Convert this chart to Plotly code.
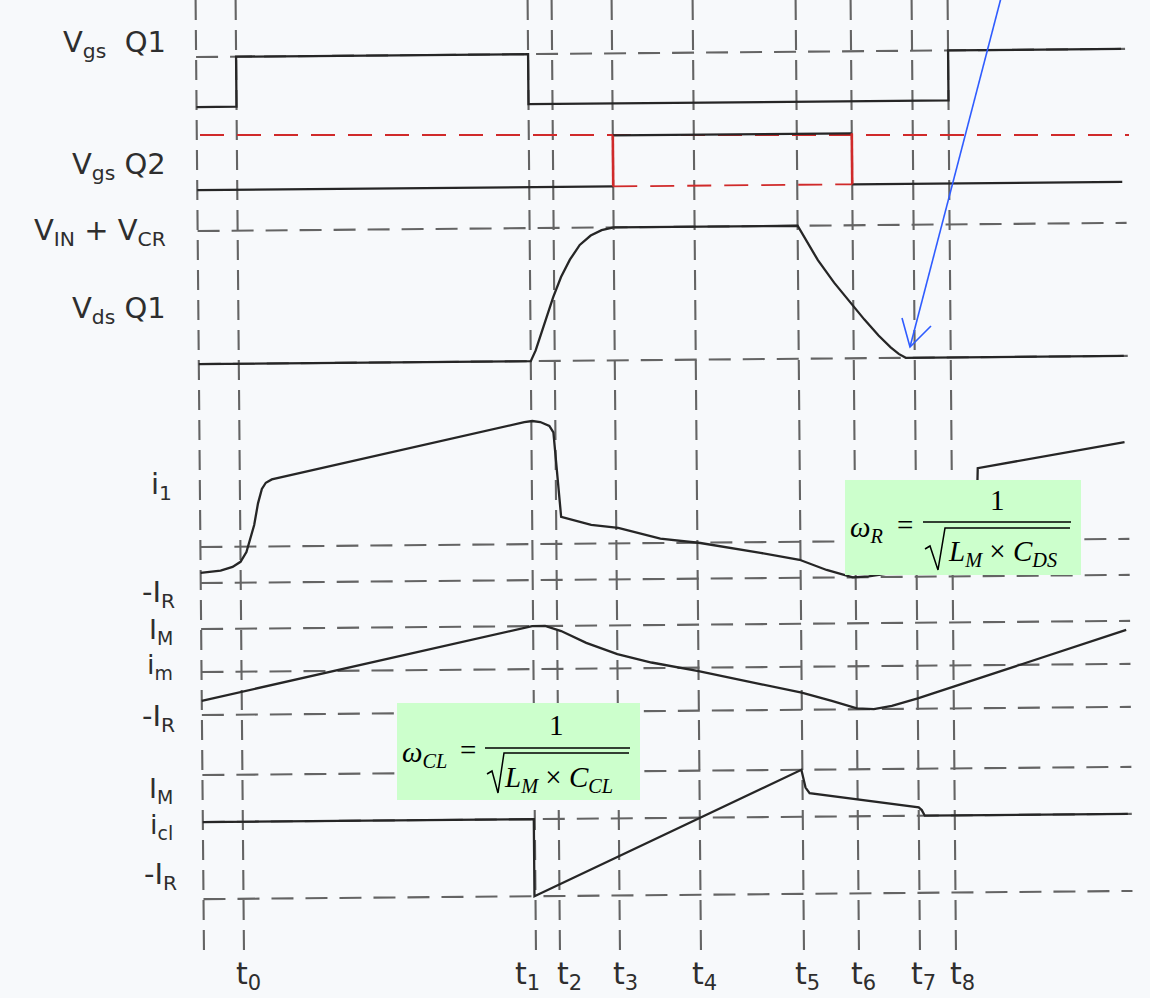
import plotly.graph_objects as go

W, H = 1150, 998

# ---- timing marks (time units; the left edge of the sheet is t = 0) ----
mark_names = ["t<sub>0</sub>", "t<sub>1</sub>", "t<sub>2</sub>", "t<sub>3</sub>", "t<sub>4</sub>",
              "t<sub>5</sub>", "t<sub>6</sub>", "t<sub>7</sub>", "t<sub>8</sub>"]
mark_times = [40, 332, 356, 416, 497, 600, 655, 716, 752]
mark_label_shift = [5, -8, 10, 6, 4, 4, 5, 4, 7]
t_start, t_end = 0, 925

# ---- gate drive Q1 (0 = off, 1 = on) ----
vgs_q1_t = [0, 40, 40, 332, 332, 752, 752, 925]
vgs_q1_v = [0, 0, 1, 1, 0, 0, 1, 1]

# ---- gate drive Q2 ----
vgs_q2_t = [0, 416, 416, 655, 655, 925]
vgs_q2_v = [0, 0, 1, 1, 0, 0]

# ---- drain-source voltage of Q1 (1 = V_IN + V_CR) ----
vds_t = [0, 332, 337, 342, 348, 355, 363, 372, 382, 393, 404, 416,
         600, 620, 636, 651, 666, 680, 692, 700, 707, 925]
vds_v = [0, 0, 0.08, 0.19, 0.33, 0.48, 0.63, 0.76, 0.87, 0.94, 0.98, 1.0,
         1.0, 0.74, 0.57, 0.43, 0.29, 0.17, 0.08, 0.03, 0.0, 0.0]

# ---- primary current i1 (units of I_R) ----
i1_t = [0, 20, 32, 40, 46, 50, 54, 58, 62, 66, 72, 325, 333, 341, 350, 354, 361,
        391, 418, 460, 500, 560, 599, 626, 652, 668, 700, 740, 775, 778, 925]
i1_v = [-0.72, -0.66, -0.56, -0.42, -0.15, 0.2, 0.6, 1.2, 1.6, 1.77, 1.86, 3.39, 3.42, 3.39,
        3.28, 3.1, 0.75, 0.52, 0.43, 0.12, -0.01, -0.3, -0.5, -0.79, -1.0, -0.98, -0.85,
        -0.7, -0.6, 2.0, 2.69]

# ---- magnetising current i_m (I_M = 1, -I_R = -1) ----
im_t = [0, 331, 344, 360, 385, 416, 450, 497, 560, 600, 630, 655, 672, 690, 716, 925]
im_v = [-0.67, 1.0, 1.0, 0.88, 0.6, 0.33, 0.13, -0.08, -0.4, -0.6, -0.8, -0.98, -1.0,
        -0.93, -0.76, 0.79]

# ---- clamp current i_cl (I_M = 1, -I_R = -1.64) ----
icl_t = [0, 331, 331, 599, 603, 607, 716, 719, 722, 925]
icl_v = [0, 0, -1.64, 1.0, 0.62, 0.5, 0.18, 0.12, 0.0, 0.0]

# dashed reference levels of each trace
vgs_q1_levels = [1]
vgs_q2_levels = [1]
vds_levels = [1, 0]
i1_levels = [0, -1]
im_levels = [1, 0, -1]
icl_levels = [1, 0, -1.64]

# ---- layout of the stacked traces: (pixel row of value 0, pixels per unit) ----
bands = {
    "vgs1": (103, 50),
    "vgs2": (186, 51),
    "vds": (360, 133),
    "i1": (543, 36),
    "im": (668, 43),
    "icl": (818, 47),
}
axis_of = {"vgs1": "y", "vgs2": "y2", "vds": "y3", "i1": "y4", "im": "y5", "icl": "y6"}

X_ORIGIN = 200          # pixel column of t = 0
TILT = 0.0088           # the whole sheet is drawn with a slight rotation
CX, CY = 660, 500       # rotation centre (pixels)

INK = "#262626"
GRID = "#646464"
RED = "#d02a2a"
DASH_H = "22px,12px"
DASH_V = "20px,10px"


def tilted(band, ts, vs, tilt=TILT):
    z, s = bands[band]
    xs, ys = [], []
    for t, v in zip(ts, vs):
        X = t + X_ORIGIN
        Y = z - v * s
        Xr = X + tilt * (Y - CY)
        Yr = Y - tilt * (X - CX)
        xs.append(Xr - X_ORIGIN)
        ys.append((z - Yr) / s)
    return xs, ys


fig = go.Figure()


def add_line(band, ts, vs, color=INK, width=2.3, dash="solid", tilt=TILT):
    xs, ys = tilted(band, ts, vs, tilt)
    fig.add_trace(go.Scatter(x=xs, y=ys, mode="lines", yaxis=axis_of[band],
                             line=dict(color=color, width=width, dash=dash),
                             hoverinfo="skip", showlegend=False))


# dashed reference levels
for band, levels in [("vgs1", vgs_q1_levels), ("vds", vds_levels), ("i1", i1_levels),
                     ("im", im_levels), ("icl", icl_levels)]:
    for lv in levels:
        add_line(band, [t_start, t_end + 4], [lv, lv], color=GRID, width=2.1, dash=DASH_H)
# the red on-level of Q2 runs level across the sheet
for lv in vgs_q2_levels:
    add_line("vgs2", [t_start, t_end + 4], [lv, lv], color=RED, width=1.8,
             dash="24px,13px", tilt=0.0)

# Q1 gate
add_line("vgs1", vgs_q1_t, vgs_q1_v)

# Q2 gate: black levels, red switching edges and red dashed low level while on
rise_t, fall_t = vgs_q2_t[1], vgs_q2_t[3]
add_line("vgs2", vgs_q2_t[:2], vgs_q2_v[:2])
add_line("vgs2", vgs_q2_t[2:4], vgs_q2_v[2:4])
add_line("vgs2", vgs_q2_t[4:], vgs_q2_v[4:])
add_line("vgs2", [rise_t, fall_t], [0, 0], color=RED, width=1.8, dash="24px,13px")
add_line("vgs2", vgs_q2_t[1:3], vgs_q2_v[1:3], color=RED, width=2.6)
add_line("vgs2", vgs_q2_t[3:5], vgs_q2_v[3:5], color=RED, width=2.6)

# drain voltage and currents
add_line("vds", vds_t, vds_v)
add_line("i1", i1_t, i1_v)
add_line("im", im_t, im_v)
add_line("icl", icl_t, icl_v)

shapes = []
BOTTOM_PX = 950
# vertical dashed timing lines (including the left edge)
for t in [t_start] + mark_times:
    shapes.append(dict(type="line", xref="x", yref="paper", layer="below",
                       x0=t + TILT * (0 - CY), y0=1.0,
                       x1=t + TILT * (BOTTOM_PX - CY), y1=1 - BOTTOM_PX / H,
                       line=dict(color=GRID, width=2.1, dash=DASH_V)))


def px(x):
    return x / W


def py(y):
    return 1 - y / H


# formula boxes
for (x0, y0, x1, y1) in [(845, 480, 1081, 575), (397, 703, 640, 800)]:
    shapes.append(dict(type="rect", xref="paper", yref="paper", layer="above",
                       x0=px(x0), y0=py(y0), x1=px(x1), y1=py(y1),
                       fillcolor="#ccffcc", line=dict(width=0)))


def path(points):
    return "M " + " L ".join(f"{px(a):.5f},{py(b):.5f}" for a, b in points)


# fraction bars and radicals
for (bx0, bx1, by) in [(923, 1071, 522), (485, 630, 748)]:
    shapes.append(dict(type="line", xref="paper", yref="paper", layer="above",
                       x0=px(bx0), y0=py(by), x1=px(bx1), y1=py(by),
                       line=dict(color="black", width=1.5)))
for pts in [[(925, 549), (930, 546), (938, 570), (945, 528), (1070, 528)],
            [(487, 774), (492, 771), (498, 793), (504, 753), (629, 753)]]:
    shapes.append(dict(type="path", xref="paper", yref="paper", layer="above",
                       path=path(pts), line=dict(color="black", width=1.5)))

# blue pointer to the end of the V_ds transition
BLUE = "#2f5cff"
shapes.append(dict(type="line", xref="paper", yref="paper", layer="above",
                   x0=px(1001), y0=py(-2), x1=px(910), y1=py(347),
                   line=dict(color=BLUE, width=1.6)))
shapes.append(dict(type="path", xref="paper", yref="paper", layer="above",
                   path=path([(902, 318), (910, 347), (931, 326)]),
                   line=dict(color=BLUE, width=1.6)))

annotations = []
LABEL_FONT = dict(family="DejaVu Sans", size=29, color="#2e2e2e")
SMALL_LABEL_FONT = dict(family="DejaVu Sans", size=27, color="#2e2e2e")

left_labels = [
    ("V<sub>gs</sub>\u00a0\u00a0Q1", 168, 44, LABEL_FONT),
    ("V<sub>gs</sub>\u00a0Q2", 168, 166, LABEL_FONT),
    ("V<sub>IN</sub>\u00a0+\u00a0V<sub>CR</sub>", 168, 232, LABEL_FONT),
    ("V<sub>ds</sub>\u00a0Q1", 168, 310, LABEL_FONT),
    ("i<sub>1</sub>", 174, 486, LABEL_FONT),
    ("-I<sub>R</sub>", 177, 594, LABEL_FONT),
    ("I<sub>M</sub>", 175, 631, SMALL_LABEL_FONT),
    ("i<sub>m</sub>", 175, 666, SMALL_LABEL_FONT),
    ("-I<sub>R</sub>", 177, 718, LABEL_FONT),
    ("I<sub>M</sub>", 175, 790, SMALL_LABEL_FONT),
    ("i<sub>cl</sub>", 175, 826, SMALL_LABEL_FONT),
    ("-I<sub>R</sub>", 179, 876, LABEL_FONT),
]
for text, xr, yc, fnt in left_labels:
    annotations.append(dict(text=text, xref="paper", yref="paper", x=px(xr), y=py(yc),
                            xanchor="right", yanchor="middle", showarrow=False,
                            font=fnt))

# time-mark labels along the bottom
for name, t, dx in zip(mark_names, mark_times, mark_label_shift):
    annotations.append(dict(text=name, xref="x", yref="paper",
                            x=t + TILT * (BOTTOM_PX - CY) + dx, y=py(975),
                            xanchor="center", yanchor="middle", showarrow=False,
                            font=dict(family="DejaVu Sans", size=30, color="#2e2e2e")))

# resonance formulas
SERIF = dict(family="Liberation Serif", size=29, color="black")
formulas = [
    # (symbol, symbol left, "=" centre, numerator centre, denominator left, row, num row, den row)
    ("<i>ω</i><sub><i>R</i></sub>", 848, 905, 997, 946, 525, 500, 553,
     "<i>L</i><sub><i>M</i></sub> × <i>C</i><sub><i>DS</i></sub>"),
    ("<i>ω</i><sub><i>CL</i></sub>", 400, 468, 556, 502, 750, 725, 779,
     "<i>L</i><sub><i>M</i></sub> × <i>C</i><sub><i>CL</i></sub>"),
]
for sym, sx, ex, nx, dx, row, nrow, drow, den in formulas:
    annotations.append(dict(text=sym, xref="paper", yref="paper", x=px(sx), y=py(row + 4),
                            xanchor="left", yanchor="middle", showarrow=False, font=SERIF))
    annotations.append(dict(text="=", xref="paper", yref="paper", x=px(ex), y=py(row),
                            xanchor="center", yanchor="middle", showarrow=False, font=SERIF))
    annotations.append(dict(text="1", xref="paper", yref="paper", x=px(nx), y=py(nrow),
                            xanchor="center", yanchor="middle", showarrow=False, font=SERIF))
    annotations.append(dict(text=den, xref="paper", yref="paper", x=px(dx), y=py(drow),
                            xanchor="left", yanchor="middle", showarrow=False, font=SERIF))

layout_axes = {}
for band, ax in axis_of.items():
    z, s = bands[band]
    key = "yaxis" if ax == "y" else "yaxis" + ax[1:]
    cfg = dict(range=[(z - H) / s, z / s], domain=[0, 1], visible=False, fixedrange=True)
    if ax != "y":
        cfg["overlaying"] = "y"
    layout_axes[key] = cfg

fig.update_layout(
    width=W, height=H, autosize=False,
    margin=dict(l=0, r=0, t=0, b=0),
    paper_bgcolor="#f7f9fb", plot_bgcolor="#f7f9fb",
    xaxis=dict(range=[-X_ORIGIN, W - X_ORIGIN], visible=False, fixedrange=True),
    shapes=shapes, annotations=annotations, showlegend=False,
    **layout_axes,
)

fig.write_html("out.html", config={"displayModeBar": False})
